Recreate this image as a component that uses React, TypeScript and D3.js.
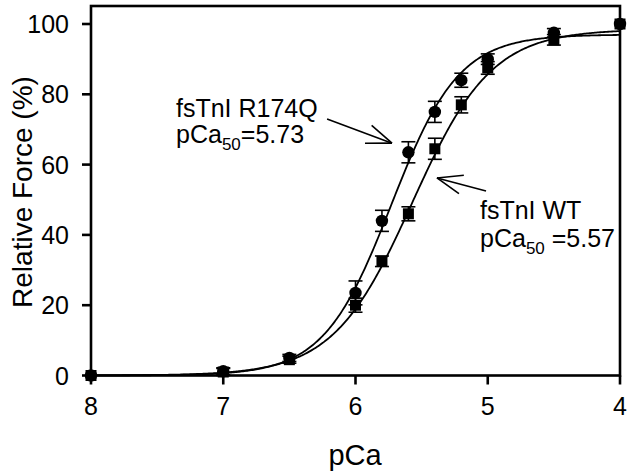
import React from 'react';
import * as d3 from 'd3';

// pCa levels tested and mean relative force (%) with SEM
const pCaLevels = [8, 7, 6.5, 6, 5.8, 5.6, 5.4, 5.2, 5, 4.5, 4];
const r174qForce = [0, 1.2, 5, 23.5, 44, 63.5, 75, 84, 90, 97.5, 100];
const r174qErr = [0, 1, 1, 3.4, 3, 3, 3, 2, 1.5, 1.2, 0];
const wtForce = [0, 1, 4.5, 20, 32.5, 46, 64.5, 77, 87.5, 95.5, 100];
const wtErr = [0, 1, 1, 2, 1.5, 2, 3, 2.3, 1.8, 1.5, 0];

// Hill fit parameters
const r174qFit = { pCa50: 5.73, nH: 1.7, fmax: 97 };
const wtFit = { pCa50: 5.57, nH: 1.45, fmax: 98.5 };

const xTicks = [8, 7, 6, 5, 4];
const yTicks = [0, 20, 40, 60, 80, 100];

const W = 630;
const H = 471;
const FONT = '"Liberation Sans", Arial, sans-serif';

const x = d3.scaleLinear().domain([8, 4]).range([91, 620]);
const y = d3.scaleLinear().domain([0, 100]).range([375.5, 24]);
const boxTop = 6;

function hill(p: number, fit: { pCa50: number; nH: number; fmax: number }) {
  return fit.fmax / (1 + Math.pow(10, fit.nH * (p - fit.pCa50)));
}

const curveX = d3.range(8, 3.999, -0.01);
const line = d3.line<number>().x(d => x(d[0])).y(d => y(d[1]));

function fitPath(fit) {
  return line(curveX.map(p => [p, hill(p, fit)]) as any);
}

function Arrow({ from, to }) {
  const x1 = x(from[0]), y1 = y(from[1]);
  const x2 = x(to[0]), y2 = y(to[1]);
  const a = Math.atan2(y1 - y2, x1 - x2);
  const len = 27, spread = 0.36;
  const arms = [a - spread, a + spread].map(t => [x2 + len * Math.cos(t), y2 + len * Math.sin(t)]);
  return (
    <g stroke="#000" strokeWidth={1.6} fill="none">
      <line x1={x1} y1={y1} x2={x2} y2={y2} />
      {arms.map((p, i) => <line key={i} x1={x2} y1={y2} x2={p[0]} y2={p[1]} />)}
    </g>
  );
}

function ErrorBars({ values, errs }) {
  return (
    <g stroke="#000" strokeWidth={1.6}>
      {pCaLevels.map((p, i) => errs[i] > 0 && (
        <g key={i}>
          <line x1={x(p)} x2={x(p)} y1={y(values[i] - errs[i])} y2={y(values[i] + errs[i])} />
          <line x1={x(p) - 7} x2={x(p) + 7} y1={y(values[i] + errs[i])} y2={y(values[i] + errs[i])} />
          <line x1={x(p) - 7} x2={x(p) + 7} y1={y(values[i] - errs[i])} y2={y(values[i] - errs[i])} />
        </g>
      ))}
    </g>
  );
}

export default function App() {
  return (
    <svg width={W} height={H} style={{ position: 'absolute', left: 0, top: 0, background: '#fff' }}
      fontFamily={FONT}>
      <rect width={W} height={H} fill="#fff" />
      {/* frame */}
      <rect x={x(8)} y={boxTop} width={x(4) - x(8)} height={y(0) - boxTop}
        fill="none" stroke="#000" strokeWidth={2.6} />
      {/* y axis ticks */}
      {yTicks.map(t => (
        <g key={t}>
          <line x1={x(8) - 9} x2={x(8)} y1={y(t)} y2={y(t)} stroke="#000" strokeWidth={2.6} />
          <text x={x(8) - 22} y={y(t)} dy="0.36em" textAnchor="end" fontSize={25}>{t}</text>
        </g>
      ))}
      {/* x axis ticks */}
      {xTicks.map(t => (
        <g key={t}>
          <line x1={x(t)} x2={x(t)} y1={y(0)} y2={y(0) + 9} stroke="#000" strokeWidth={2.6} />
          <text x={x(t)} y={415} textAnchor="middle" fontSize={25}>{t}</text>
        </g>
      ))}
      <text x={355} y={465} textAnchor="middle" fontSize={29}>pCa</text>
      <text transform="translate(32,192) rotate(-90)" textAnchor="middle" fontSize={28}>Relative Force (%)</text>

      {/* fitted curves */}
      <path d={fitPath(wtFit)} fill="none" stroke="#000" strokeWidth={1.8} />
      <path d={fitPath(r174qFit)} fill="none" stroke="#000" strokeWidth={1.8} />

      {/* WT: squares */}
      <ErrorBars values={wtForce} errs={wtErr} />
      {pCaLevels.map((p, i) => (
        <rect key={i} x={x(p) - 5.5} y={y(wtForce[i]) - 5.5} width={11} height={11} fill="#000" />
      ))}
      {/* R174Q: circles */}
      <ErrorBars values={r174qForce} errs={r174qErr} />
      {pCaLevels.map((p, i) => (
        <circle key={i} cx={x(p)} cy={y(r174qForce[i])} r={6.2} fill="#000" />
      ))}

      {/* annotations */}
      <text x={176} y={117} fontSize={25}>fsTnI R174Q</text>
      <text x={176} y={143} fontSize={25}>pCa<tspan fontSize={17} dy={7}>50</tspan><tspan dy={-7}>=5.73</tspan></text>
      <Arrow from={[6.215, 73]} to={[5.724, 66.1]} />

      <text x={480} y={219} fontSize={25}>fsTnI WT</text>
      <text x={480} y={247} fontSize={25}>pCa<tspan fontSize={17} dy={7}>50</tspan><tspan dy={-7}> =5.57</tspan></text>
      <Arrow from={[5.013, 52.5]} to={[5.384, 56.2]} />
    </svg>
  );
}
